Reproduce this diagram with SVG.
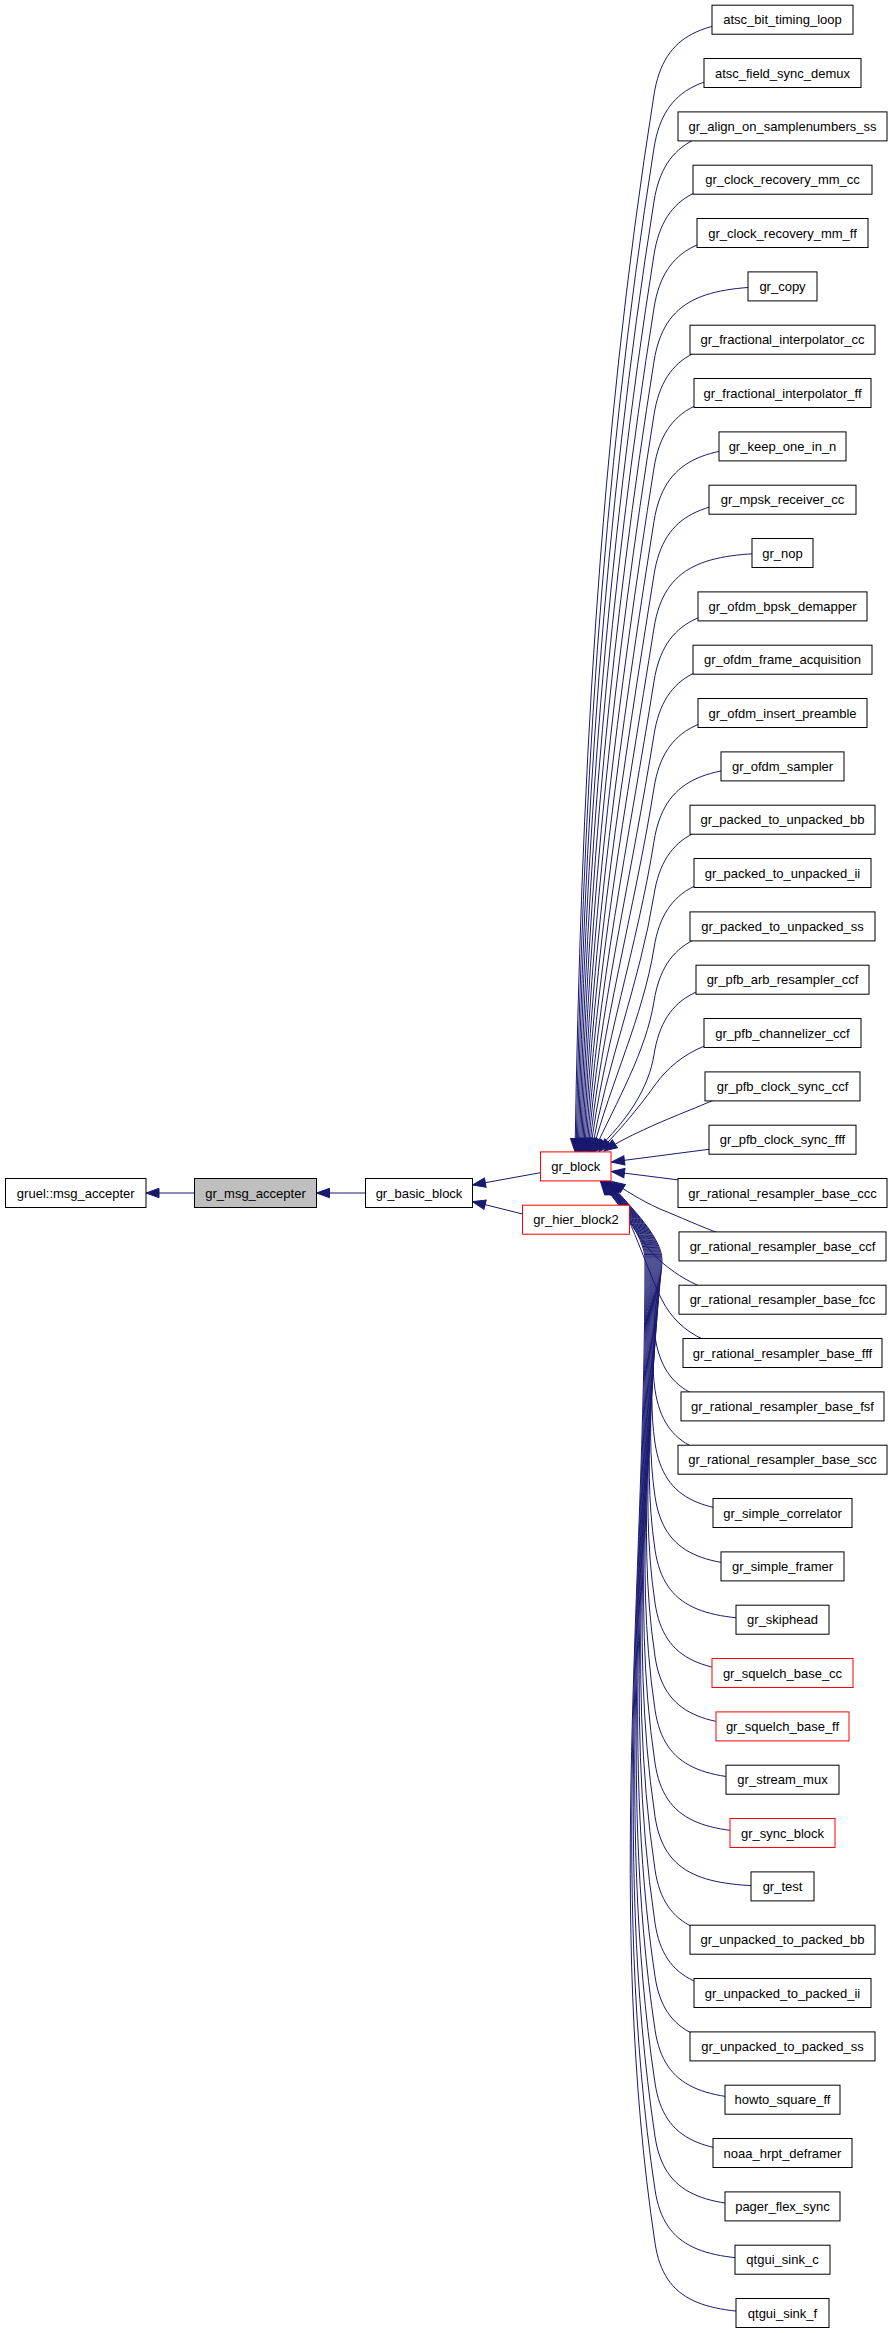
<svg xmlns="http://www.w3.org/2000/svg" width="893" height="2333" viewBox="0 0 893 2333">
<style>
.n rect{fill:#fff;stroke:#000;stroke-width:1}
.r rect{stroke:#f00}
.g rect{fill:#bfbfbf}
text{font-family:"Liberation Sans",Arial,sans-serif;font-size:13px;text-anchor:middle;fill:#000}
#edges path{fill:none;stroke:#191970;stroke-width:1;marker-end:url(#arr)}
</style>
<defs>
<marker id="arr" markerUnits="userSpaceOnUse" markerWidth="14" markerHeight="10" refX="13" refY="4.7" orient="auto" overflow="visible">
<path d="M0,0 L13,4.7 L0,9.4 Z" fill="#191970" stroke="#191970" stroke-width="1"/>
</marker>
</defs>
<rect width="893" height="2333" fill="#fff"/>
<g id="edges">
<path d="M194.5,1193 L146,1193"/>
<path d="M365.5,1193 L316.5,1193"/>
<path d="M540.5,1172.7 L472.5,1185"/>
<path d="M522.5,1214 L472.5,1201.5"/>
<path d="M782.5,19.7 C705,19.7 664,31.7 654,94.7 C598,447 580.8,799.2 575,1151.5"/>
<path d="M782.5,73 C705,73 664,85 654,148 C600.8,482.5 582.1,817 576.1,1151.5"/>
<path d="M782.5,126.4 C705,126.4 664,138.4 654,201.4 C603.6,518.1 583.4,834.8 577.2,1151.5"/>
<path d="M782.5,179.7 C705,179.7 664,191.7 654,254.7 C606.5,553.6 584.6,852.6 578.3,1151.5"/>
<path d="M782.5,233 C705,233 664,245 654,308 C609.3,589.2 586,870.3 579.4,1151.5"/>
<path d="M782.5,286.4 C705,286.4 664,298.4 654,361.4 C612.1,624.8 587.3,888.1 580.5,1151.5"/>
<path d="M782.5,339.7 C705,339.7 664,351.7 654,414.7 C614.9,660.3 588.7,905.9 581.6,1151.5"/>
<path d="M782.5,393 C705,393 664,405 654,468 C617.8,695.8 590.1,923.7 582.7,1151.5"/>
<path d="M782.5,446.4 C705,446.4 664,458.4 654,521.4 C620.6,731.4 591.6,941.5 583.8,1151.5"/>
<path d="M782.5,499.7 C705,499.7 664,511.7 654,574.7 C623.4,767 593.1,959.2 584.9,1151.5"/>
<path d="M782.5,553 C705,553 664,565 654,628 C626.3,802.5 594.7,977 586,1151.5"/>
<path d="M782.5,606.4 C705,606.4 664,618.4 654,681.4 C629.1,838.1 596.5,994.8 587.1,1151.5"/>
<path d="M782.5,659.7 C705,659.7 664,671.7 654,734.7 C631.9,873.6 598.4,1012.6 588.2,1151.5"/>
<path d="M782.5,713 C705,713 664,725 654,788 C634.7,909.2 600.6,1030.3 589.3,1151.5"/>
<path d="M782.5,766.4 C705,766.4 664,778.4 654,841.4 C637.6,944.8 603.1,1048.1 590.4,1151.5"/>
<path d="M782.5,819.7 C705,819.7 664,831.7 654,894.7 C640.4,980.3 606.2,1065.9 591.5,1151.5"/>
<path d="M782.5,873 C705,873 664,885 654,948 C643.2,1015.8 610.3,1083.7 592.6,1151.5"/>
<path d="M782.5,926.4 C705,926.4 664,938.4 654,1001.4 C646,1051.4 616.7,1101.5 593.7,1151.5"/>
<path d="M782.5,979.7 C705,979.7 664,991.7 654,1054.7 C648.9,1087 628.8,1119.2 594.8,1151.5"/>
<path d="M782.5,1033 C720,1033 680,1050 655,1085 C635,1113 615,1135 599,1151.5"/>
<path d="M782.5,1086.4 C740,1086.4 720,1098 690,1110 C660,1122 625,1137 604,1151"/>
<path d="M782.5,1139.7 L611.5,1162"/>
<path d="M782.5,1193 L611.5,1171.5"/>
<path d="M782.5,1246.4 C740,1246.4 700,1225 660,1209 C640,1200 625,1190 612,1181.5"/>
<path d="M782.5,1299.7 C720,1299.7 690,1285 665,1265 C640,1245 622,1210 610.5,1181.5"/>
<path d="M782.5,1353 C715,1353 680,1335 662,1300 C648,1272 630,1215 609.5,1181.5"/>
<path d="M782.5,1406.4 C705,1406.4 664,1396.4 655,1336.4 C651.2,1310.9 662,1285.5 662,1260 C662,1235 623,1200 609,1181.5"/>
<path d="M782.5,1459.7 C705,1459.7 664,1449.7 655,1389.7 C648.5,1346.5 661,1303.2 661,1260 C661,1235 622.5,1200 608.5,1181.5"/>
<path d="M782.5,1513 C705,1513 664,1503 655,1443 C645.9,1382 660,1321 660,1260 C660,1235 622,1200 608,1181.5"/>
<path d="M782.5,1566.4 C705,1566.4 664,1556.4 655,1496.4 C643.2,1417.6 659,1338.8 659,1260 C659,1235 621.5,1200 607.5,1181.5"/>
<path d="M782.5,1619.7 C705,1619.7 664,1609.7 655,1549.7 C640.5,1453.1 658,1356.6 658,1260 C658,1235 621,1200 607,1181.5"/>
<path d="M782.5,1673 C705,1673 664,1663 655,1603 C637.9,1488.7 657,1374.3 657,1260 C657,1235 620.5,1200 606.5,1181.5"/>
<path d="M782.5,1726.4 C705,1726.4 664,1716.4 655,1656.4 C635.2,1524.3 656,1392.1 656,1260 C656,1235 620,1200 606,1181.5"/>
<path d="M782.5,1779.7 C705,1779.7 664,1769.7 655,1709.7 C632.5,1559.8 655,1409.9 655,1260 C655,1235 619.5,1200 605.5,1181.5"/>
<path d="M782.5,1833 C705,1833 664,1823 655,1763 C629.9,1595.3 654,1427.7 654,1260 C654,1235 619,1200 605,1181.5"/>
<path d="M782.5,1886.4 C705,1886.4 664,1876.4 655,1816.4 C627.2,1630.9 653,1445.5 653,1260 C653,1235 618.5,1200 604.5,1181.5"/>
<path d="M782.5,1939.7 C705,1939.7 664,1929.7 655,1869.7 C624.5,1666.5 652,1463.2 652,1260 C652,1235 618,1200 604,1181.5"/>
<path d="M782.5,1993 C705,1993 664,1983 655,1923 C621.9,1702 651,1481 651,1260 C651,1235 617.5,1200 603.5,1181.5"/>
<path d="M782.5,2046.4 C705,2046.4 664,2036.4 655,1976.4 C619.2,1737.6 650,1498.8 650,1260 C650,1235 617,1200 603,1181.5"/>
<path d="M782.5,2099.7 C705,2099.7 664,2089.7 655,2029.7 C616.5,1773.1 649,1516.6 649,1260 C649,1235 616.5,1200 602.5,1181.5"/>
<path d="M782.5,2153 C705,2153 664,2143 655,2083 C613.9,1808.7 648,1534.3 648,1260 C648,1235 616,1200 602,1181.5"/>
<path d="M782.5,2206.4 C705,2206.4 664,2196.4 655,2136.4 C611.2,1844.3 647,1552.1 647,1260 C647,1235 615.5,1200 601.5,1181.5"/>
<path d="M782.5,2259.7 C705,2259.7 664,2249.7 655,2189.7 C608.5,1879.8 646,1569.9 646,1260 C646,1235 615,1200 601,1181.5"/>
<path d="M782.5,2313 C705,2313 664,2303 655,2243 C605.9,1915.3 645,1587.7 645,1260 C645,1235 614.5,1200 600.5,1181.5"/>
</g>
<g id="gruel_msg_accepter" class="n"><rect x="5.5" y="1178.5" width="140.5" height="29"/><text x="75.75" y="1197.5">gruel::msg_accepter</text></g>
<g id="gr_msg_accepter" class="n g"><rect x="194.5" y="1178.5" width="122" height="29"/><text x="255.5" y="1197.5">gr_msg_accepter</text></g>
<g id="gr_basic_block" class="n"><rect x="365.5" y="1178.5" width="107" height="29"/><text x="419" y="1197.5">gr_basic_block</text></g>
<g id="gr_block" class="n r"><rect x="540.5" y="1151.9" width="70.5" height="29"/><text x="575.75" y="1170.9">gr_block</text></g>
<g id="gr_hier_block2" class="n r"><rect x="522.5" y="1205.2" width="107" height="29"/><text x="576" y="1224.2">gr_hier_block2</text></g>
<g id="n0" class="n"><rect x="712" y="5.2" width="141" height="29"/><text x="782.5" y="24.2">atsc_bit_timing_loop</text></g>
<g id="n1" class="n"><rect x="704" y="58.5" width="157" height="29"/><text x="782.5" y="77.5">atsc_field_sync_demux</text></g>
<g id="n2" class="n"><rect x="678" y="111.9" width="209" height="29"/><text x="782.5" y="130.9">gr_align_on_samplenumbers_ss</text></g>
<g id="n3" class="n"><rect x="693" y="165.2" width="179" height="29"/><text x="782.5" y="184.2">gr_clock_recovery_mm_cc</text></g>
<g id="n4" class="n"><rect x="697" y="218.5" width="171" height="29"/><text x="782.5" y="237.5">gr_clock_recovery_mm_ff</text></g>
<g id="n5" class="n"><rect x="748" y="271.9" width="69" height="29"/><text x="782.5" y="290.9">gr_copy</text></g>
<g id="n6" class="n"><rect x="690" y="325.2" width="185" height="29"/><text x="782.5" y="344.2">gr_fractional_interpolator_cc</text></g>
<g id="n7" class="n"><rect x="694" y="378.5" width="177" height="29"/><text x="782.5" y="397.5">gr_fractional_interpolator_ff</text></g>
<g id="n8" class="n"><rect x="719" y="431.9" width="127" height="29"/><text x="782.5" y="450.9">gr_keep_one_in_n</text></g>
<g id="n9" class="n"><rect x="709" y="485.2" width="147" height="29"/><text x="782.5" y="504.2">gr_mpsk_receiver_cc</text></g>
<g id="n10" class="n"><rect x="752" y="538.5" width="61" height="29"/><text x="782.5" y="557.5">gr_nop</text></g>
<g id="n11" class="n"><rect x="698" y="591.9" width="169" height="29"/><text x="782.5" y="610.9">gr_ofdm_bpsk_demapper</text></g>
<g id="n12" class="n"><rect x="693" y="645.2" width="179" height="29"/><text x="782.5" y="664.2">gr_ofdm_frame_acquisition</text></g>
<g id="n13" class="n"><rect x="698" y="698.5" width="169" height="29"/><text x="782.5" y="717.5">gr_ofdm_insert_preamble</text></g>
<g id="n14" class="n"><rect x="721" y="751.9" width="123" height="29"/><text x="782.5" y="770.9">gr_ofdm_sampler</text></g>
<g id="n15" class="n"><rect x="690" y="805.2" width="185" height="29"/><text x="782.5" y="824.2">gr_packed_to_unpacked_bb</text></g>
<g id="n16" class="n"><rect x="694" y="858.5" width="177" height="29"/><text x="782.5" y="877.5">gr_packed_to_unpacked_ii</text></g>
<g id="n17" class="n"><rect x="690" y="911.9" width="185" height="29"/><text x="782.5" y="930.9">gr_packed_to_unpacked_ss</text></g>
<g id="n18" class="n"><rect x="696" y="965.2" width="173" height="29"/><text x="782.5" y="984.2">gr_pfb_arb_resampler_ccf</text></g>
<g id="n19" class="n"><rect x="704" y="1018.5" width="157" height="29"/><text x="782.5" y="1037.5">gr_pfb_channelizer_ccf</text></g>
<g id="n20" class="n"><rect x="705" y="1071.9" width="155" height="29"/><text x="782.5" y="1090.9">gr_pfb_clock_sync_ccf</text></g>
<g id="n21" class="n"><rect x="709" y="1125.2" width="147" height="29"/><text x="782.5" y="1144.2">gr_pfb_clock_sync_fff</text></g>
<g id="n22" class="n"><rect x="678" y="1178.5" width="209" height="29"/><text x="782.5" y="1197.5">gr_rational_resampler_base_ccc</text></g>
<g id="n23" class="n"><rect x="679" y="1231.9" width="207" height="29"/><text x="782.5" y="1250.9">gr_rational_resampler_base_ccf</text></g>
<g id="n24" class="n"><rect x="679" y="1285.2" width="207" height="29"/><text x="782.5" y="1304.2">gr_rational_resampler_base_fcc</text></g>
<g id="n25" class="n"><rect x="683" y="1338.5" width="199" height="29"/><text x="782.5" y="1357.5">gr_rational_resampler_base_fff</text></g>
<g id="n26" class="n"><rect x="681" y="1391.9" width="203" height="29"/><text x="782.5" y="1410.9">gr_rational_resampler_base_fsf</text></g>
<g id="n27" class="n"><rect x="678" y="1445.2" width="209" height="29"/><text x="782.5" y="1464.2">gr_rational_resampler_base_scc</text></g>
<g id="n28" class="n"><rect x="713" y="1498.5" width="139" height="29"/><text x="782.5" y="1517.5">gr_simple_correlator</text></g>
<g id="n29" class="n"><rect x="721" y="1551.9" width="123" height="29"/><text x="782.5" y="1570.9">gr_simple_framer</text></g>
<g id="n30" class="n"><rect x="736" y="1605.2" width="93" height="29"/><text x="782.5" y="1624.2">gr_skiphead</text></g>
<g id="n31" class="n r"><rect x="712" y="1658.5" width="141" height="29"/><text x="782.5" y="1677.5">gr_squelch_base_cc</text></g>
<g id="n32" class="n r"><rect x="716" y="1711.9" width="133" height="29"/><text x="782.5" y="1730.9">gr_squelch_base_ff</text></g>
<g id="n33" class="n"><rect x="726" y="1765.2" width="113" height="29"/><text x="782.5" y="1784.2">gr_stream_mux</text></g>
<g id="n34" class="n r"><rect x="730" y="1818.5" width="105" height="29"/><text x="782.5" y="1837.5">gr_sync_block</text></g>
<g id="n35" class="n"><rect x="751" y="1871.9" width="63" height="29"/><text x="782.5" y="1890.9">gr_test</text></g>
<g id="n36" class="n"><rect x="690" y="1925.2" width="185" height="29"/><text x="782.5" y="1944.2">gr_unpacked_to_packed_bb</text></g>
<g id="n37" class="n"><rect x="694" y="1978.5" width="177" height="29"/><text x="782.5" y="1997.5">gr_unpacked_to_packed_ii</text></g>
<g id="n38" class="n"><rect x="690" y="2031.9" width="185" height="29"/><text x="782.5" y="2050.9">gr_unpacked_to_packed_ss</text></g>
<g id="n39" class="n"><rect x="725" y="2085.2" width="115" height="29"/><text x="782.5" y="2104.2">howto_square_ff</text></g>
<g id="n40" class="n"><rect x="713" y="2138.5" width="139" height="29"/><text x="782.5" y="2157.5">noaa_hrpt_deframer</text></g>
<g id="n41" class="n"><rect x="725" y="2191.9" width="115" height="29"/><text x="782.5" y="2210.9">pager_flex_sync</text></g>
<g id="n42" class="n"><rect x="735" y="2245.2" width="95" height="29"/><text x="782.5" y="2264.2">qtgui_sink_c</text></g>
<g id="n43" class="n"><rect x="736" y="2298.5" width="93" height="29"/><text x="782.5" y="2317.5">qtgui_sink_f</text></g>
</svg>
